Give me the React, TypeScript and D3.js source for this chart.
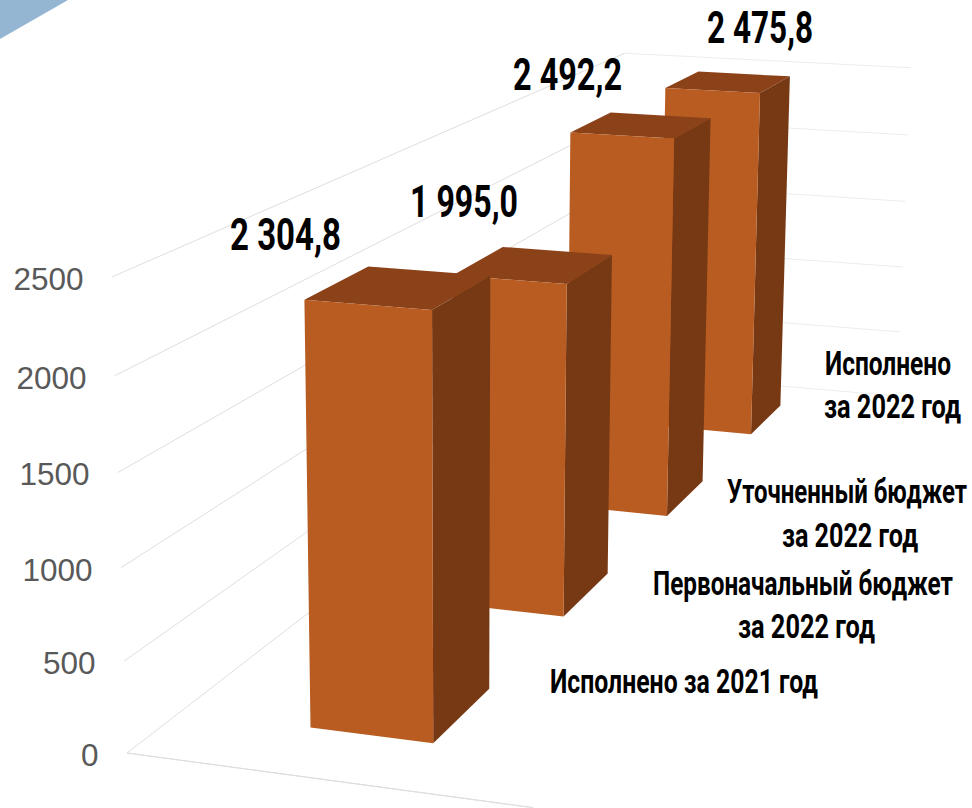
import React from 'react';
import * as d3 from 'd3';

const categories = ['Исполнено за 2021 год', 'Первоначальный бюджет за 2022 год', 'Уточненный бюджет за 2022 год', 'Исполнено за 2022 год'];
const values = [2304.8, 1995.0, 2492.2, 2475.8];
const yTicks = [0, 500, 1000, 1500, 2000, 2500];

// text placement: [x, baseline, width]
const valuePlacement = [[230, 250, 111], [410, 217, 108], [513, 90, 109], [707, 43, 106]];
const categoryLines = [
  { text: 'Исполнено', x: 825, y: 375, w: 126 },
  { text: 'за 2022 год', x: 824, y: 418, w: 137 },
  { text: 'Уточненный бюджет', x: 727, y: 503, w: 240 },
  { text: 'за 2022 год', x: 782, y: 547, w: 136 },
  { text: 'Первоначальный бюджет', x: 653, y: 595, w: 300 },
  { text: 'за 2022 год', x: 738, y: 638, w: 137 },
  { text: 'Исполнено за 2021 год', x: 550, y: 693, w: 268 },
];

const WIDTH = 972;
const HEIGHT = 808;

// camera: maps (c along the categories, s across the bar, v up) to the screen
const d = [0.5222, -0.045, -0.0428];
const A = [816.8, 382, -19.8];
const B = [-186.3, 18.3, -487.9];
const project = (c: number, s: number, v: number): [number, number] => {
  const w = 1 + d[0] * c + d[1] * s + d[2] * v;
  return [(127 + A[0] * c + A[1] * s + A[2] * v) / w, (753 + B[0] * c + B[1] * s + B[2] * v) / w];
};

const cScale = d3.scaleBand<string>().domain(categories).range([0, 1.008]).paddingInner(0.6).paddingOuter(0.3);
const sScale = d3.scaleBand<string>().domain(['series']).range([-0.005, 0.995]).paddingOuter(1.097);
const vScale = d3.scaleLinear().domain([0, 2500]).range([0, 1]);

const line = d3.line();
const fmt = d3.formatLocale({ decimal: ',', thousands: '\u00a0', grouping: [3], currency: ['', ''] }).format(',.1f');

const GRID = '#dedede';
const GRID_BACK = '#ececec';
const TEXT_FONT = '"Liberation Sans Narrow", Roboto, sans-serif';

export default function App() {
  const s0 = sScale('series') as number;
  const s1 = s0 + sScale.bandwidth();

  const face = (pts: [number, number, number][]) =>
    line(pts.map(p => project(p[0], p[1], p[2]))) + 'Z';

  return (
    <svg width={WIDTH} height={HEIGHT} style={{ position: 'fixed', left: 0, top: 0, background: '#fff' }}>
      <path d="M0,0L68,0L0,39Z" fill="#94b6d2" />

      {yTicks.map(t => {
        const v = vScale(t);
        const [x, y] = project(0, 0, v);
        const [bx, by] = project(1, 0, v);
        const [rx, ry] = project(1, 1, v);
        return (
          <g key={t}>
            <line x1={x} y1={y} x2={bx} y2={by} stroke={GRID} strokeWidth={1} />
            <line x1={bx} y1={by} x2={rx} y2={ry} stroke={GRID_BACK} strokeWidth={1} />
            <text x={x - 28.5} y={y + 13} textAnchor="end" fontFamily='"Liberation Sans", Arial, sans-serif' fontSize={31.5} fill="#595959">
              {t}
            </text>
          </g>
        );
      })}
      <path d={face([[0, 0, 0], [0, 1, 0]])} fill="none" stroke={GRID} strokeWidth={1} />

      {categories.map((cat, i) => ({ cat, i })).reverse().map(({ cat, i }) => {
        const c0 = cScale(cat) as number;
        const c1 = c0 + cScale.bandwidth();
        const v = vScale(values[i]);
        return (
          <g key={cat}>
            <path d={face([[c0, s0, v], [c0, s1, v], [c1, s1, v], [c1, s0, v]])} fill="#8c4219" />
            <path d={face([[c0, s1, 0], [c1, s1, 0], [c1, s1, v], [c0, s1, v]])} fill="#773914" />
            <path d={face([[c0, s0, 0], [c0, s1, 0], [c0, s1, v], [c0, s0, v]])} fill="#b85c21" />
          </g>
        );
      })}

      {values.map((val, i) => (
        <text key={i} x={valuePlacement[i][0]} y={valuePlacement[i][1]} textLength={valuePlacement[i][2]} lengthAdjust="spacingAndGlyphs"
          fontFamily={TEXT_FONT} fontWeight={700} fontSize={44} fill="#000">
          {fmt(val)}
        </text>
      ))}
      {categoryLines.map((l, i) => (
        <text key={i} x={l.x} y={l.y} textLength={l.w} lengthAdjust="spacingAndGlyphs"
          fontFamily={TEXT_FONT} fontWeight={700} fontSize={33} fill="#000">
          {l.text}
        </text>
      ))}
    </svg>
  );
}
